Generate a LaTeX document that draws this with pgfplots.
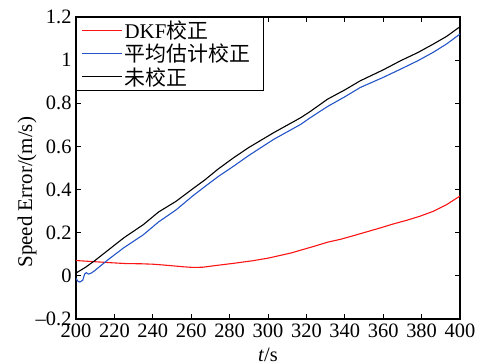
\documentclass[border=0pt]{standalone}
\usepackage{fontspec}
\setmainfont{Liberation Serif}
\newfontfamily\cjk{Noto Sans CJK SC}
\usepackage{pgfplots}
\pgfplotsset{compat=1.18}
\definecolor{myblue}{RGB}{35,85,200}
\definecolor{myred}{RGB}{250,20,20}
\begin{document}
\begin{tikzpicture}
\begin{axis}[
  name=ax,
  scale only axis,
  width=384bp, height=302bp,
  xmin=200, xmax=400, ymin=-0.2, ymax=1.2,
  xtick={200,220,...,400},
  ytick={-0.2,0,0.2,0.4,0.6,0.8,1,1.2},
  yticklabels={--0.2,0,0.2,0.4,0.6,0.8,1,1.2},
  tick align=inside,
  major tick length=5bp,
  axis line style={line width=1.1bp},
  every tick/.style={black,line width=0.9bp},
  /pgf/number format/assume math mode=true,
  tick label style={font=\fontsize{20.5}{22}\selectfont},
  xticklabel style={yshift=-1bp},
  yticklabel style={xshift=-1bp},
  xlabel={\textit{t}/s},
  xlabel style={font=\fontsize{20.5}{22}\selectfont, at={(axis description cs:0.5,0)}, anchor=base, yshift=-42bp},
  ylabel={Speed Error/(m/s)},
  ylabel style={font=\fontsize{21}{22}\selectfont, at={(axis description cs:-0.1276,0.42)}, anchor=center},
  legend style={at={(0,1)}, anchor=north west, draw=black, line width=0.9bp,
    font=\fontsize{21}{22}\selectfont, inner xsep=5.5bp, inner ysep=2bp,
    row sep=1bp, nodes={inner sep=1.5bp}},
  legend cell align=left,
  legend image code/.code={\draw[#1,line width=1.1bp] (0bp,0bp) -- (40bp,0bp);},
]
\addplot[myred, line width=1.1bp] coordinates {
(200,0.071)(209,0.066)(218,0.061)(226,0.057)(234,0.056)(240,0.054)(246,0.050)(251,0.046)(256,0.042)(261,0.039)(266,0.040)(272,0.047)(282,0.058)(292,0.070)(300,0.082)(306,0.094)(312,0.106)(317,0.119)(324,0.137)(331,0.156)(338,0.170)(344,0.185)(351,0.203)(358,0.221)(365,0.240)(372,0.257)(379,0.276)(386,0.299)(393,0.330)(400,0.370)
};
\addlegendentry{\makebox[132bp][l]{DKF{\cjk 校正}}}
\addplot[myblue, line width=1.1bp] coordinates {
(200,-0.012)(201,-0.025)(202,-0.029)(203.5,-0.020)(204.5,0.008)(205.3,0.015)(206.5,0.008)(208,0.013)(210,0.026)(213,0.048)(217,0.077)(225,0.131)(235,0.190)(243,0.250)(252,0.305)(261,0.372)(267,0.413)(274,0.460)(282,0.508)(290,0.558)(303,0.633)(317,0.702)(322,0.733)(331,0.785)(340,0.830)(348,0.873)(360,0.920)(369,0.958)(378,0.997)(386,1.036)(393,1.075)(400,1.121)
};
\addlegendentry{\makebox[132bp][l]{\cjk 平均估计校正}}
\addplot[black, line width=1.1bp] coordinates {
(200,0.013)(205,0.040)(210,0.072)(217,0.121)(225,0.177)(235,0.237)(243,0.296)(252,0.345)(261,0.405)(267,0.444)(274,0.495)(282,0.547)(290,0.595)(303,0.664)(317,0.733)(322,0.762)(331,0.819)(340,0.862)(348,0.904)(360,0.955)(369,0.997)(378,1.035)(386,1.074)(393,1.110)(400,1.155)
};
\addlegendentry{\makebox[132bp][l]{\cjk 未校正}}
\end{axis}
\pgfresetboundingbox
\path ([xshift=-76bp,yshift=-45bp]ax.south west) rectangle ([xshift=19bp,yshift=17bp]ax.north east);
\end{tikzpicture}
\end{document}
